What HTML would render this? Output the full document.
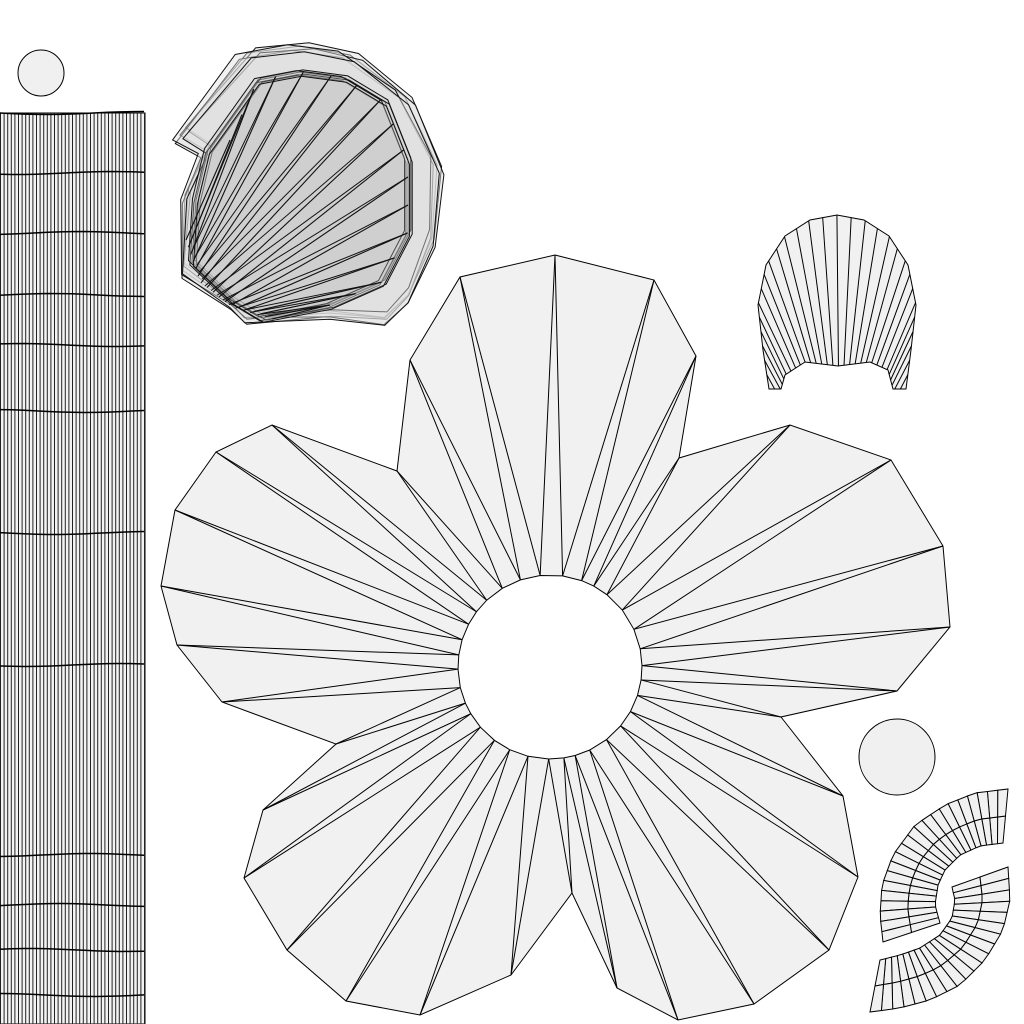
<!DOCTYPE html>
<html><head><meta charset="utf-8"><style>
html,body{margin:0;padding:0;background:#fff;}
svg{display:block;}
</style></head><body>
<svg id="uv" width="1024" height="1024" viewBox="0 0 1024 1024" xmlns="http://www.w3.org/2000/svg">
<g id="strip"></g>
<circle cx="41" cy="73" r="23" fill="#f0f0f0" stroke="#000" stroke-width="1"/>
<g id="shell"></g>
<g id="flower"></g>
<g id="dome"></g>
<circle cx="897" cy="757" r="38" fill="#f0f0f0" stroke="#000" stroke-width="1"/>
<g id="rings"></g>
</svg>
<script>
const NS="http://www.w3.org/2000/svg";
const stripRows=[113,173,233,295,345,411,533,665,855,905,950,995];
const stripCols=40;
const flowerOuter=[[555,255],[654,280],[696,356],[679,458],[790,425],[891,460],[943,546],[950,627],[897,691],[781,717],[843,796],[858,877],[829,950],[754,1004],[678,1020],[617,988],[572,893],[511,975],[420,1015],[346,1001],[287,950],[244,878],[263,810],[336,744],[222,702],[177,645],[161,586],[175,510],[216,452],[272,425],[397,471],[410,360],[460,277]];
const flowerCenter=[550,667];
const holeR=92;
const shellOuter=[[180,135],[247,53],[300,46],[350,55],[405,97],[437,165],[432,238],[408,295],[385,318],[330,313],[245,318],[230,303],[182,270],[185,195],[205,150]];
const shellInner=[[208,150],[258,80],[300,72],[345,78],[385,102],[408,160],[408,232],[382,282],[330,305],[262,318],[232,300],[192,262],[196,200]];
const shellArc=[[230,140],[258,80],[300,72],[345,78],[385,102],[408,160],[408,232],[382,282],[330,305]];
const shellBase=[[186,240],[200,282],[228,304],[268,316]];
const domeOuter=[[769,389],[763,350],[758,305],[766,265],[785,236],[810,220],[837,215],[864,220],[889,236],[908,265],[916,305],[911,350],[906,389]];
const domeInner=[[769,389],[781,389],[785,375],[805,362],[838,366],[870,362],[888,370],[893,389],[906,389]];
const ringAOuter=[[1008,789],[975,793],[945,805],[915,825],[893,855],[882,885],[880,915],[883,942]];
const ringAInner=[[1003,843],[980,846],[960,855],[945,870],[938,885],[935,905],[940,923]];
const ringBOuter=[[1008,867],[1010,900],[1003,930],[985,960],[960,985],[930,1000],[900,1008],[870,1012]];
const ringBInner=[[952,887],[955,900],[952,918],[940,935],[920,948],[900,955],[880,960]];

function mk(tag,attrs,parent,name){const e=document.createElementNS(NS,tag);for(const k in attrs)e.setAttribute(k,attrs[k]);


parent.appendChild(e);return e;}
function pts(a){return a.map(p=>p[0].toFixed(1)+","+p[1].toFixed(1)).join(" ");}
function resample(poly,n){const L=[0];for(let i=1;i<poly.length;i++){L.push(L[i-1]+Math.hypot(poly[i][0]-poly[i-1][0],poly[i][1]-poly[i-1][1]));}
const T=L[L.length-1],out=[];for(let k=0;k<=n;k++){const d=T*k/n;let i=1;while(i<poly.length-1&&L[i]<d)i++;const t=(d-L[i-1])/((L[i]-L[i-1])||1);
out.push([poly[i-1][0]+(poly[i][0]-poly[i-1][0])*t,poly[i-1][1]+(poly[i][1]-poly[i-1][1])*t]);}return out;}

// strip
const strip=document.getElementById('strip');
mk('rect',{x:0,y:113,width:145,height:911,fill:"#f3f3f3",stroke:"#000","stroke-width":1},strip,'strip-background');
for(let i=0;i<=stripCols;i++){const x=0.5+i*144/stripCols;
mk('line',{x1:x,y1:113,x2:x,y2:1024,stroke:"#222","stroke-width":1},strip,'strip-column-line');}
stripRows.forEach((y,j)=>{const p=[];for(let x=0;x<=145;x+=12)p.push([x,y+Math.sin(x/30+j)*1.5]);
mk('polyline',{points:pts(p),fill:"none",stroke:"#000","stroke-width":1.5},strip,'strip-row-line');});

// shell
const shell=document.getElementById('shell');
const offs=[[0,0,0],[4,-3,2],[-3,4,-2],[6,3,3],[-5,-2,-3],[2,6,1]];
offs.forEach(o=>{const a=o[2]*Math.PI/180,cx=310,cy=185;
const tr=shellOuter.map(p=>{const dx=p[0]-cx,dy=p[1]-cy;return [cx+dx*Math.cos(a)-dy*Math.sin(a)+o[0],cy+dx*Math.sin(a)+dy*Math.cos(a)+o[1]];});
mk('polygon',{points:pts(tr),fill:"rgba(225,225,225,0.45)",stroke:"#111","stroke-width":1},shell,'shell-outline');});
offs.forEach(o=>{const tr=shellInner.map(p=>[p[0]+o[0]*0.7,p[1]+o[1]*0.7]);
mk('polygon',{points:pts(tr),fill:"rgba(205,205,205,0.3)",stroke:"#111","stroke-width":1},shell,'shell-inner');});
const arcP=resample(shellArc,16),baseP=resample(shellBase,16);
for(let i=0;i<=16;i++){const a=baseP[i],b=arcP[i];
mk('line',{x1:a[0],y1:a[1],x2:b[0],y2:b[1],stroke:"#111","stroke-width":1.1},shell,'shell-fan-line');
const c=arcP[Math.min(16,i+2)];
mk('line',{x1:a[0]+4,y1:a[1]+3,x2:c[0],y2:c[1],stroke:"#111","stroke-width":1},shell,'shell-fan-line');}

// flower
const fl=document.getElementById('flower');
mk('polygon',{points:pts(flowerOuter),fill:"#f1f1f1",stroke:"#000","stroke-width":1},fl,'flower-outline');
const [fcx,fcy]=flowerCenter;
function ang(p){return Math.atan2(p[1]-fcy,p[0]-fcx);}
const holePts=[];
for(let i=0;i<flowerOuter.length;i++){const a=flowerOuter[i],b=flowerOuter[(i+1)%flowerOuter.length];
let a1=ang(a),a2=ang(b);if(a2<a1-Math.PI)a2+=2*Math.PI;const am=(a1+a2)/2;
const h=[fcx+holeR*Math.cos(am),fcy+holeR*Math.sin(am)];holePts.push(h);
mk('line',{x1:a[0],y1:a[1],x2:h[0],y2:h[1],stroke:"#000","stroke-width":1},fl,'flower-edge');
mk('line',{x1:b[0],y1:b[1],x2:h[0],y2:h[1],stroke:"#000","stroke-width":1},fl,'flower-edge');}
mk('polygon',{points:pts(holePts),fill:"#fff",stroke:"#000","stroke-width":1},fl,'flower-hole');

// dome
const dome=document.getElementById('dome');
const dPoly=domeOuter.concat(domeInner.slice().reverse());
mk('polygon',{points:pts(dPoly),fill:"#f1f1f1",stroke:"#000","stroke-width":1},dome,'dome-outline');
const dO=resample(domeOuter,30),dI=resample(domeInner,30);
for(let i=1;i<30;i++){mk('line',{x1:dI[i][0],y1:dI[i][1],x2:dO[i][0],y2:dO[i][1],stroke:"#000","stroke-width":1},dome,'dome-rib');}

// rings
const rings=document.getElementById('rings');
function ring(outer,inner,n,name){const O=resample(outer,n),I=resample(inner,n);
const M=O.map((p,i)=>[(p[0]+I[i][0])/2,(p[1]+I[i][1])/2]);
for(let i=0;i<n;i++){
mk('polygon',{points:pts([I[i],M[i],M[i+1],I[i+1]]),fill:"#f1f1f1",stroke:"#000","stroke-width":1},rings,name+'-cell');
mk('polygon',{points:pts([M[i],O[i],O[i+1],M[i+1]]),fill:"#f1f1f1",stroke:"#000","stroke-width":1},rings,name+'-cell');}}
ring(ringAOuter,ringAInner,22,'ring-a');
ring(ringBOuter,ringBInner,20,'ring-b');
</script>
</body></html>
